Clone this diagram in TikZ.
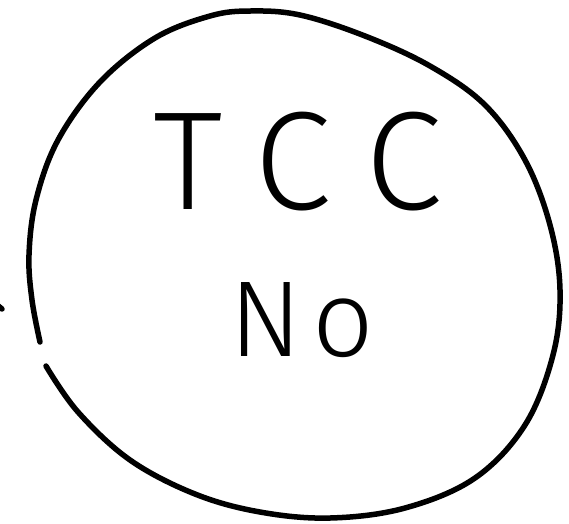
\documentclass[tikz,border=0pt]{standalone}
\usepackage{fontspec}
\newfontfamily\hand{Fira Sans Light}
\tikzset{
  stroke/.style={line width=5.5pt, line cap=round, line join=round, black},
  lbl/.style={font=\hand, text=black, inner sep=0pt}
}
\begin{document}
\begin{tikzpicture}[x=1pt,y=-1pt]
\useasboundingbox (0,0) rectangle (569,523);
% hand-drawn circle with a gap on the left
\draw[stroke] plot[smooth, tension=0.6] coordinates {
  (40,342) (32,300) (29,255) (36,200) (58,140) (100,82) (155,38) (210,16)
  (250,11) (300,15) (365,36) (430,66) (485,105) (525,160) (550,225)
  (560,290) (553,355) (525,425) (475,478) (405,508) (330,518) (260,512)
  (195,494) (130,460) (78,412) (46,366)};
% small mark at the far left edge
\coordinate (m1) at (-4,304);
\coordinate (m2) at (2,309);
\draw[stroke] (m1) -- (m2);
\node[lbl, font=\hand\fontsize{140}{140}\selectfont\addfontfeature{LetterSpace=26}] (tcc) at (298,162) {TCC};
\node[lbl, font=\hand\fontsize{108}{108}\selectfont\addfontfeature{LetterSpace=10}] (no) at (302,320) {No};
\end{tikzpicture}
\end{document}
